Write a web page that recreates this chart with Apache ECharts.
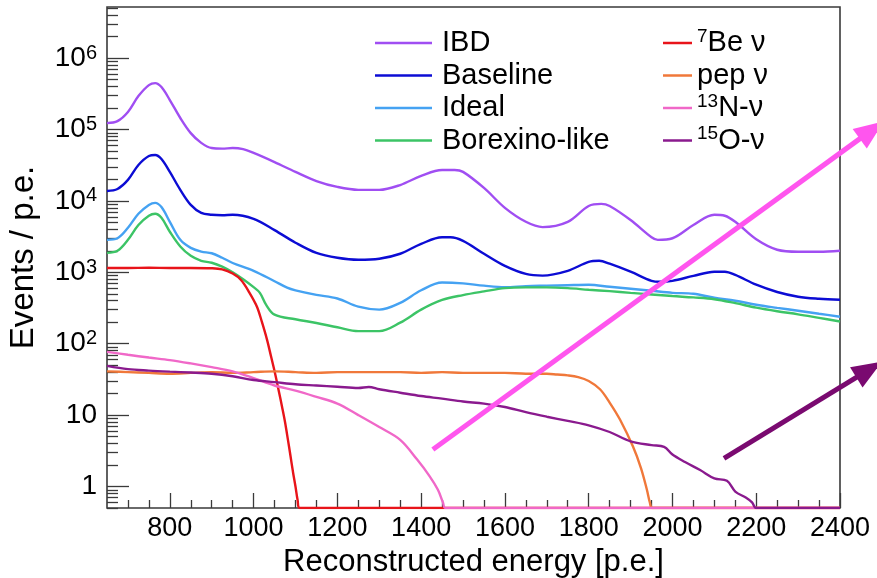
<!DOCTYPE html>
<html>
<head>
<meta charset="utf-8">
<script src="https://cdn.jsdelivr.net/npm/echarts@6/dist/echarts.min.js"></script>
<style>
  html, body { margin: 0; padding: 0; background: #fff; }
  #chart { width: 877px; height: 578px; }
</style>
</head>
<body>
<div id="chart"></div>
<script>
// Reconstructed-energy spectra, [p.e., events per p.e.]; 0 marks an empty bin.
const IBD = [[650,1.23e5],[675,1.31e5],[700,1.76e5],[725,2.94e5],[750,4.19e5],[765,4.47e5],[780,3.93e5],[800,2.59e5],[825,1.45e5],[850,8.9e4],[875,6.5e4],[900,5.5e4],[925,5.4e4],[950,5.5e4],[975,5.3e4],[1000,4.7e4],[1050,3.5e4],[1100,2.55e4],[1150,1.9e4],[1200,1.57e4],[1250,1.43e4],[1300,1.43e4],[1350,1.67e4],[1400,2.24e4],[1450,2.71e4],[1480,2.71e4],[1500,2.55e4],[1550,1.52e4],[1600,8.0e3],[1650,5.1e3],[1690,4.3e3],[1750,5.1e3],[1800,8.5e3],[1830,9.1e3],[1850,8.5e3],[1900,5.4e3],[1950,3.1e3],[1965,2.85e3],[2000,3.0e3],[2050,4.6e3],[2100,6.4e3],[2125,6.2e3],[2150,5.1e3],[2200,2.9e3],[2250,2.07e3],[2300,1.94e3],[2350,1.94e3],[2400,2.0e3]];
const BASELINE = [[650,1.38e4],[675,1.47e4],[700,1.97e4],[725,3.19e4],[750,4.26e4],[765,4.4e4],[780,3.87e4],[800,2.55e4],[825,1.43e4],[850,8.8e3],[875,6.8e3],[900,6.4e3],[925,6.3e3],[950,6.4e3],[1000,5.6e3],[1050,3.9e3],[1100,2.6e3],[1150,1.87e3],[1200,1.6e3],[1250,1.5e3],[1300,1.55e3],[1350,1.82e3],[1400,2.5e3],[1450,3.1e3],[1470,3.1e3],[1500,2.76e3],[1550,1.82e3],[1600,1.23e3],[1650,950],[1690,900],[1750,1.05e3],[1800,1.4e3],[1825,1.45e3],[1850,1.32e3],[1900,1.02e3],[1950,760],[1970,736],[2000,760],[2050,890],[2100,1.02e3],[2125,1.02e3],[2150,920],[2200,670],[2250,530],[2300,455],[2350,426],[2400,412]];
const IDEAL = [[650,2.85e3],[675,3.0e3],[700,4.2e3],[725,6.6e3],[750,8.8e3],[765,9.4e3],[780,8.2e3],[800,5.1e3],[825,2.85e3],[850,2.2e3],[875,1.95e3],[900,1.85e3],[925,1.6e3],[950,1.35e3],[1000,1.05e3],[1050,750],[1080,610],[1100,560],[1150,484],[1200,430],[1250,330],[1300,300],[1350,374],[1400,560],[1450,720],[1500,700],[1550,650],[1600,620],[1650,640],[1700,650],[1750,660],[1800,668],[1850,627],[1900,588],[1950,551],[2000,516],[2050,500],[2100,440],[2150,400],[2200,351],[2250,318],[2300,290],[2350,263],[2400,239]];
const BOREXINO = [[650,1.87e3],[675,2.0e3],[700,2.85e3],[725,4.6e3],[750,6.2e3],[765,6.6e3],[780,5.8e3],[800,3.7e3],[825,2.3e3],[850,1.7e3],[875,1.45e3],[900,1.36e3],[925,1.2e3],[950,1.0e3],[975,800],[1000,620],[1015,516],[1030,350],[1050,255],[1100,220],[1150,195],[1200,170],[1250,150],[1300,150],[1350,197],[1400,300],[1450,410],[1500,480],[1550,540],[1600,600],[1650,615],[1700,615],[1750,600],[1800,570],[1850,545],[1900,515],[1950,490],[2000,465],[2050,445],[2100,420],[2150,370],[2200,320],[2250,285],[2300,258],[2350,230],[2400,205]];
const BE7 = [[650,1150],[700,1150],[750,1160],[800,1150],[850,1150],[900,1140],[925,1100],[950,960],[970,780],[990,520],[1008,330],[1020,200],[1032,114],[1042,65],[1051,39],[1060,22],[1068,13],[1075,8],[1082,4.5],[1088,2.7],[1094,1.6],[1100,1.0],[1105,0.65],[1110,0],[2400,0]];
const PEP = [[650,41],[700,40],[750,39],[800,38],[850,39],[900,40],[950,39],[1000,40],[1050,41],[1100,40],[1150,39],[1200,40],[1250,40],[1300,40],[1350,40],[1400,39],[1450,40],[1500,39],[1550,39],[1600,39],[1650,38],[1700,38],[1725,37],[1750,36],[1775,34],[1800,30],[1827,23],[1850,15],[1875,8.6],[1906,3.6],[1925,1.8],[1939,0.9],[1946,0.6],[1952,0],[2400,0]];
const N13 = [[650,77],[700,70],[750,64],[800,59],[850,53],[900,47],[950,41],[1000,33],[1050,26],[1100,22],[1150,18],[1200,14.5],[1250,10],[1300,6.8],[1350,4.5],[1390,2.4],[1420,1.4],[1440,0.9],[1452,0.6],[1458,0],[2400,0]];
const O15 = [[650,49],[700,44],[750,42],[800,40.6],[850,39.5],[900,38],[950,35],[1000,31],[1050,29],[1100,27],[1150,26],[1200,25],[1250,24],[1275,24.8],[1300,23],[1350,20.6],[1400,18.5],[1450,17],[1500,15.5],[1550,14.5],[1600,13],[1650,11],[1700,9.5],[1750,8.3],[1800,7.2],[1850,5.8],[1900,4.3],[1950,3.8],[1980,3.6],[2000,2.8],[2030,2.2],[2066,1.7],[2100,1.3],[2130,1.2],[2150,0.85],[2175,0.7],[2190,0.6],[2200,0],[2400,0]];

// Annotation arrows, [p.e., events] at tail and head.
const ARROW_PINK = [[1428, 3.3, 2505, 1.31e5]];
const ARROW_PURPLE = [[2123, 2.47, 2500, 56]];

// Axis ranges and tick values.
const X_MIN = 650, X_MAX = 2400;
const Y_MIN = 0.5, Y_MAX = 5.2e6;
const X_MAJOR = [800, 1000, 1200, 1400, 1600, 1800, 2000, 2200, 2400];
const X_MINOR = [700, 750, 850, 900, 950, 1050, 1100, 1150, 1250, 1300, 1350, 1450, 1500, 1550, 1650, 1700, 1750, 1850, 1900, 1950, 2050, 2100, 2150, 2250, 2300, 2350];
const Y_MAJOR = [1, 10, 100, 1e3, 1e4, 1e5, 1e6];
const Y_MINOR = [];
for (let d = 0.1; d <= 1e6; d *= 10) {
  for (let m = 2; m <= 9; m++) {
    const v = +(m * d).toPrecision(3);
    if (v >= Y_MIN && v <= Y_MAX) Y_MINOR.push(v);
  }
}

const FONT = '"Liberation Sans", Arial, Helvetica, sans-serif';
const INK = '#000';
const FRAME = '#3a3a3a';

// Empty bins sit on the lower edge of the frame, as on a log histogram.
const floorBins = pts => pts.map(([x, y]) => [x, Math.max(y, Y_MIN)]);

const SERIES = [
  { name: 'IBD', data: IBD, color: '#a04ef2' },
  { name: 'Baseline', data: BASELINE, color: '#0c0cd4' },
  { name: 'Ideal', data: IDEAL, color: '#45a2f2' },
  { name: 'Borexino-like', data: BOREXINO, color: '#3cc466' },
  { name: '7Be ν', data: BE7, color: '#e8141a' },
  { name: 'pep ν', data: PEP, color: '#f0783a' },
  { name: '13N-ν', data: N13, color: '#f068c8' },
  { name: '15O-ν', data: O15, color: '#8a1a8e' }
];

const LEGEND_TEXT = {
  '7Be ν': '{sup|7}Be ν',
  'pep ν': 'pep ν',
  '13N-ν': '{sup|13}N-ν',
  '15O-ν': '{sup|15}O-ν'
};

const legendText = {
  fontFamily: FONT, fontSize: 29, color: INK, lineHeight: 32,
  rich: { sup: { fontFamily: FONT, fontSize: 19, color: INK, verticalAlign: 'top', lineHeight: 20 } }
};

function arrowSeries(data, color) {
  return {
    type: 'custom',
    data: data,
    clip: false,
    silent: true,
    z: 10,
    encode: { x: [0, 2], y: [1, 3] },
    renderItem: function (params, api) {
      const a = api.coord([api.value(0), api.value(1)]);
      const b = api.coord([api.value(2), api.value(3)]);
      const dx = b[0] - a[0], dy = b[1] - a[1];
      const len = Math.sqrt(dx * dx + dy * dy);
      const ux = dx / len, uy = dy / len;
      const headL = 30, headW = 12;
      const bx = b[0] - ux * headL, by = b[1] - uy * headL;
      return {
        type: 'group',
        children: [
          { type: 'line', shape: { x1: a[0], y1: a[1], x2: bx + ux * 2, y2: by + uy * 2 },
            style: { stroke: color, lineWidth: 5 } },
          { type: 'polygon',
            shape: { points: [[b[0], b[1]], [bx - uy * headW, by + ux * headW], [bx + uy * headW, by - ux * headW]] },
            style: { fill: color } }
        ]
      };
    }
  };
}

const chart = echarts.init(document.getElementById('chart'), null, { renderer: 'canvas' });

chart.setOption({
  animation: false,
  backgroundColor: '#fff',
  grid: {
    left: 107, right: 37, top: 7, bottom: 70,
    outerBoundsMode: 'none', containLabel: false,
    show: true, borderColor: FRAME, borderWidth: 1.6, backgroundColor: 'transparent'
  },
  legend: [
    {
      data: ['IBD', 'Baseline', 'Ideal', 'Borexino-like'],
      orient: 'vertical', left: 375, top: 27, padding: 0,
      icon: 'rect', itemWidth: 57, itemHeight: 2.5, itemGap: 0.5,
      textStyle: Object.assign({ padding: [0, 0, 0, 5] }, legendText),
      selectedMode: false
    },
    {
      data: ['7Be ν', 'pep ν', '13N-ν', '15O-ν'],
      orient: 'vertical', left: 663, top: 27, padding: 0,
      icon: 'rect', itemWidth: 29, itemHeight: 2.5, itemGap: 0.5,
      formatter: name => LEGEND_TEXT[name],
      textStyle: Object.assign({ padding: [0, 0, 0, 0] }, legendText),
      selectedMode: false
    }
  ],
  xAxis: [
    {
      type: 'value', min: X_MIN, max: X_MAX, position: 'bottom',
      axisLine: { show: false },
      splitLine: { show: false },
      axisTick: { inside: true, length: 15, customValues: X_MAJOR, lineStyle: { color: FRAME, width: 1.3 } },
      axisLabel: { customValues: X_MAJOR, formatter: v => String(Math.round(v)), fontFamily: FONT, fontSize: 27, color: INK, margin: 7 },
      name: 'Reconstructed energy [p.e.]', nameLocation: 'middle', nameGap: 38,
      nameTextStyle: { fontFamily: FONT, fontSize: 31, color: INK }
    },
    {
      type: 'value', min: X_MIN, max: X_MAX, position: 'bottom',
      axisLine: { show: false }, splitLine: { show: false }, axisLabel: { show: false },
      axisTick: { inside: true, length: 8, customValues: X_MINOR, lineStyle: { color: FRAME, width: 1.3 } }
    }
  ],
  yAxis: [
    {
      type: 'log', logBase: 10, min: Y_MIN, max: Y_MAX, position: 'left',
      axisLine: { show: false },
      splitLine: { show: false },
      axisTick: { inside: true, length: 22, customValues: Y_MAJOR, lineStyle: { color: FRAME, width: 1.3 } },
      axisLabel: {
        customValues: Y_MAJOR, fontFamily: FONT, fontSize: 28, color: INK, margin: 10, lineHeight: 30,
        formatter: v => {
          const n = Math.round(Math.log10(v));
          if (n === 0) return '1';
          if (n === 1) return '10';
          return '10{sup|' + n + '}';
        },
        rich: { sup: { fontFamily: FONT, fontSize: 20, color: INK, verticalAlign: 'top', lineHeight: 18 } }
      },
      name: 'Events / p.e.', nameLocation: 'middle', nameGap: 67, nameRotate: 90,
      nameTextStyle: { fontFamily: FONT, fontSize: 33, color: INK }
    },
    {
      type: 'log', logBase: 10, min: Y_MIN, max: Y_MAX, position: 'left',
      axisLine: { show: false }, splitLine: { show: false }, axisLabel: { show: false },
      axisTick: { inside: true, length: 11, customValues: Y_MINOR, lineStyle: { color: FRAME, width: 1.3 } }
    }
  ],
  series: SERIES.map(s => ({
    type: 'line',
    name: s.name,
    data: floorBins(s.data),
    xAxisIndex: 0, yAxisIndex: 0,
    showSymbol: false,
    smooth: 0.35,
    color: s.color,
    lineStyle: { color: s.color, width: 2.4 },
    z: 3
  })).concat([
    arrowSeries(ARROW_PINK, '#ff55ee'),
    arrowSeries(ARROW_PURPLE, '#7a0a70')
  ])
});
</script>
</body>
</html>
